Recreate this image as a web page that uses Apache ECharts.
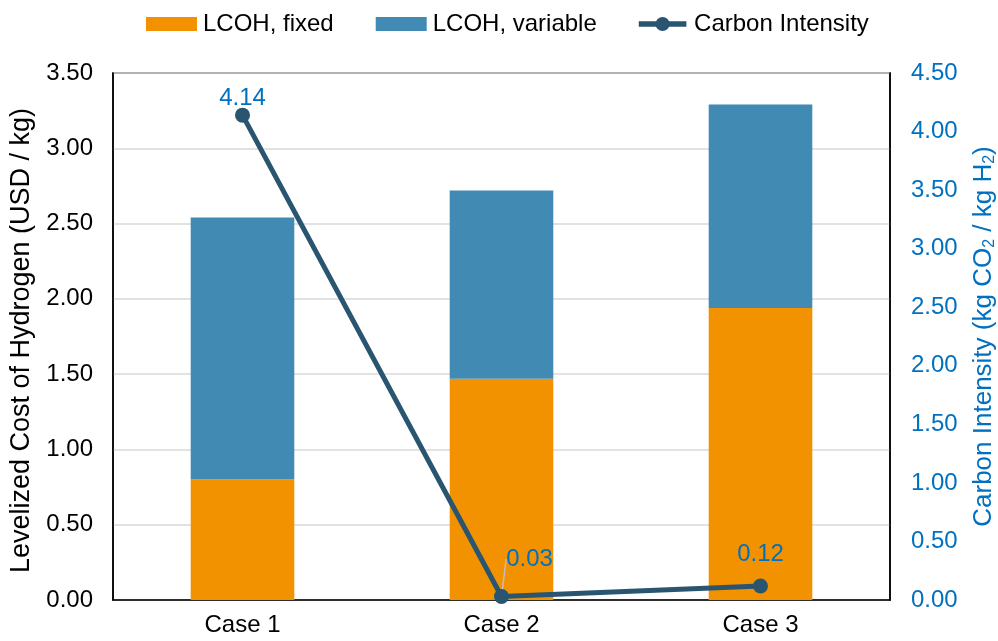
<!DOCTYPE html>
<html>
<head>
<meta charset="utf-8">
<script src="https://cdn.jsdelivr.net/npm/echarts@6/dist/echarts.min.js"></script>
<style>
  html, body { margin: 0; padding: 0; background: #fff; }
  #chart { width: 998px; height: 641px; }
</style>
</head>
<body>
<div id="chart"></div>
<script>
// Cases compared
const categories = ['Case 1', 'Case 2', 'Case 3'];
// Levelized cost of hydrogen components (USD / kg)
const lcohFixed = [0.80, 1.47, 1.94];
const lcohVariable = [1.74, 1.25, 1.35];
// Carbon intensity (kg CO2 / kg H2)
const carbonIntensity = [4.14, 0.03, 0.12];

const FONT = '"Liberation Sans", Arial, sans-serif';
const LABEL_BLUE = '#0070C0';
const LINE_COLOR = '#2A5570';

// legend glyph for the line series: thick stroke with a marker dot
const LINE_ICON = 'path://M0,4.5H51V10.5H0Z M18,7.5A7.5,7.5 0 1,1 33,7.5A7.5,7.5 0 1,1 18,7.5Z';

const chart = echarts.init(document.getElementById('chart'));

// per-point label shifts; only the crowded Case 2 label gets a leader line
const labelOffsets = [[0, 8], [28, -13], [0, -7]];
const showLeader = [false, true, false];

chart.setOption({
  animation: false,
  textStyle: { fontFamily: FONT },
  legend: {
    top: 7,
    left: 141,
    itemWidth: 51,
    itemHeight: 14,
    itemGap: 42,
    textStyle: { fontFamily: FONT, fontSize: 24, color: '#000', padding: [0, 0, 0, 1] },
    data: [
      { name: 'LCOH, fixed', icon: 'rect' },
      { name: 'LCOH, variable', icon: 'rect' },
      { name: 'Carbon Intensity', icon: LINE_ICON, itemStyle: { color: LINE_COLOR } }
    ]
  },
  grid: {
    left: 113, right: 108, top: 73, bottom: 41,
    outerBoundsMode: 'none',
    containLabel: false,
    show: true, borderColor: '#000', borderWidth: 1.5, backgroundColor: 'transparent'
  },
  xAxis: {
    type: 'category',
    data: categories,
    axisLine: { lineStyle: { color: '#000', width: 1.5 } },
    axisTick: { show: false },
    axisLabel: { fontFamily: FONT, fontSize: 24, color: '#000', margin: 13 }
  },
  yAxis: [
    {
      type: 'value',
      min: 0, max: 3.5, interval: 0.5,
      name: 'Levelized Cost of Hydrogen (USD / kg)',
      nameLocation: 'middle',
      nameGap: 72,
      nameTextStyle: { fontFamily: FONT, fontSize: 27, color: '#000', padding: [0, 8, 0, 0] },
      axisLine: { show: true, lineStyle: { color: '#000', width: 1.5 } },
      axisTick: { show: false },
      axisLabel: { fontFamily: FONT, fontSize: 24, color: '#000', margin: 20,
        formatter: v => v.toFixed(2) },
      splitLine: { lineStyle: { color: '#D9D9D9', width: 1.5 } }
    },
    {
      type: 'value',
      min: 0, max: 4.5, interval: 0.5,
      position: 'right',
      name: '{n|Carbon Intensity (kg CO}{s|2}{n| / kg H}{s|2}{n|)}',
      nameLocation: 'middle',
      nameGap: 80,
      nameRotate: 90,
      nameTextStyle: {
        rich: {
          n: { fontFamily: FONT, fontSize: 26, color: LABEL_BLUE },
          s: { fontFamily: FONT, fontSize: 16, color: LABEL_BLUE, verticalAlign: 'bottom', padding: [12, 0, 0, 0] }
        }
      },
      axisLine: { show: true, lineStyle: { color: '#000', width: 1.5 } },
      axisTick: { show: false },
      axisLabel: { fontFamily: FONT, fontSize: 24, color: LABEL_BLUE, margin: 21,
        formatter: v => v.toFixed(2) },
      splitLine: { show: false }
    }
  ],
  series: [
    {
      name: 'LCOH, fixed',
      type: 'bar',
      stack: 'lcoh',
      barWidth: '40%',
      itemStyle: { color: '#F39200' },
      data: lcohFixed
    },
    {
      name: 'LCOH, variable',
      type: 'bar',
      stack: 'lcoh',
      barWidth: '40%',
      itemStyle: { color: '#418AB3' },
      data: lcohVariable
    },
    {
      name: 'Carbon Intensity',
      type: 'line',
      yAxisIndex: 1,
      symbol: 'circle',
      symbolSize: 15,
      lineStyle: { color: LINE_COLOR, width: 5 },
      itemStyle: { color: LINE_COLOR },
      z: 5,
      label: {
        show: true,
        position: 'top',
        fontFamily: FONT,
        fontSize: 24,
        color: LABEL_BLUE,
        formatter: p => p.value.toFixed(2)
      },
      labelLine: { show: false, lineStyle: { color: '#BFBFBF', width: 1.5 } },
      labelLayout: p => ({ dx: labelOffsets[p.dataIndex][0], dy: labelOffsets[p.dataIndex][1] }),
      data: carbonIntensity.map((v, i) => ({
        value: v,
        labelLine: { show: showLeader[i] }
      }))
    }
  ]
});
</script>
</body>
</html>
